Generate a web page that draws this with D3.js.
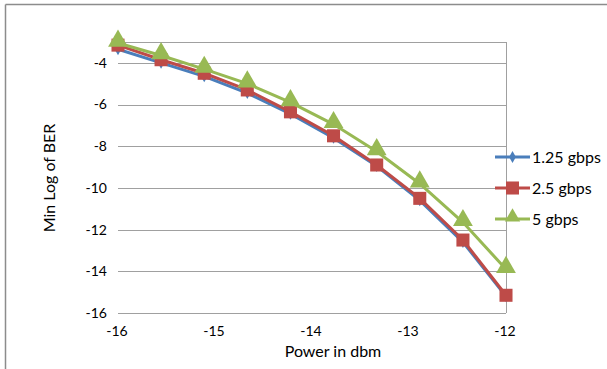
<!DOCTYPE html>
<html>
<head>
<meta charset="utf-8">
<script src="https://cdn.jsdelivr.net/npm/d3@7"></script>
<style>
  body { margin: 0; background: #fff; }
  text { font-family: Lato, "Open Sans", sans-serif; fill: #000; }
</style>
</head>
<body>
<svg width="607" height="369"></svg>
<script>
var power = [-16, -15.556, -15.111, -14.667, -14.222, -13.778, -13.333, -12.889, -12.444, -12]
var ber125 = [-3.35, -4.0, -4.65, -5.45, -6.45, -7.6, -8.95, -10.6, -12.6, -15.2]
var ber25 = [-3.15, -3.85, -4.5, -5.3, -6.35, -7.5, -8.9, -10.5, -12.5, -15.15]
var ber5 = [-3.05, -3.65, -4.3, -5.0, -5.9, -6.95, -8.25, -9.8, -11.65, -13.9]
var xTicks = [-16, -15, -14, -13, -12]
var yTicks = [-4, -6, -8, -10, -12, -14, -16]
var seriesNames = ["1.25 gbps", "2.5 gbps", "5 gbps"]
var seriesColors = ["#4a7ebb", "#be4b48", "#98b954"]
var seriesData = [ber125, ber25, ber5]

var svg = d3.select('svg')

// outer chart frame (top and left edges visible)
svg.append('line').attr('x1', 5.5).attr('x2', 607).attr('y1', 4.5).attr('y2', 4.5)
  .attr('stroke', '#8c8c8c').attr('stroke-width', 1.5)
svg.append('line').attr('x1', 5.5).attr('x2', 5.5).attr('y1', 4.5).attr('y2', 369)
  .attr('stroke', '#8c8c8c').attr('stroke-width', 1.5)

var x = d3.scaleLinear().domain([-16, -12]).range([118, 506])
var y = d3.scaleLinear().domain([-16, -3]).range([313, 42])

// gridlines
svg.append('g').selectAll('line')
  .data(yTicks.concat([-3]))
  .enter().append('line')
    .attr('x1', x(-16)).attr('x2', x(-12))
    .attr('y1', d => Math.round(y(d)) + 0.5).attr('y2', d => Math.round(y(d)) + 0.5)
    .attr('stroke', '#a0a0a0').attr('stroke-width', 1)
svg.append('line')
  .attr('x1', Math.round(x(-12)) + 0.5).attr('x2', Math.round(x(-12)) + 0.5)
  .attr('y1', y(-3)).attr('y2', y(-16))
  .attr('stroke', '#a0a0a0').attr('stroke-width', 1)

// tick labels
svg.append('g').selectAll('text')
  .data(yTicks)
  .enter().append('text')
    .attr('x', 107).attr('y', d => y(d))
    .attr('dy', '0.35em')
    .attr('text-anchor', 'end')
    .style('font-size', '14px')
    .text(d => String(d))
svg.append('g').selectAll('text')
  .data(xTicks)
  .enter().append('text')
    .attr('x', d => x(d) - 1).attr('y', 331)
    .attr('dy', '0.35em')
    .attr('text-anchor', 'middle')
    .style('font-size', '14px')
    .text(d => String(d))

// axis titles
svg.append('text')
  .attr('transform', 'translate(49,178) rotate(-90)')
  .attr('text-anchor', 'middle')
  .attr('dy', '0.35em')
  .style('font-size', '16px')
  .text('Min Log of BER')
svg.append('text')
  .attr('x', 333).attr('y', 351)
  .attr('text-anchor', 'middle')
  .attr('dy', '0.35em')
  .style('font-size', '16px')
  .text('Power in dbm')

var line = d3.line().x(d => x(d[0])).y(d => y(d[1]))

function marker(sel, i, size) {
  var sym = [d3.symbolDiamond, d3.symbolSquare, d3.symbolTriangle][i]
  var area = [40, 170, 170][i]
  sel.append('path')
    .attr('d', d3.symbol().type(sym).size(area * (size || 1)))
    .attr('fill', seriesColors[i])
}

seriesData.forEach(function (vals, i) {
  var pts = power.map((p, k) => [p, vals[k]])
  var g = svg.append('g')
  g.append('path')
    .datum(pts)
    .attr('d', line)
    .attr('fill', 'none')
    .attr('stroke', seriesColors[i])
    .attr('stroke-width', 3)
  g.selectAll('g')
    .data(pts)
    .enter().append('g')
      .attr('transform', d => 'translate(' + x(d[0]) + ',' + (y(d[1]) + (i == 2 ? -2 : 0)) + ')')
      .each(function () { marker(d3.select(this), i) })
})

// legend
var legend = svg.append('g')
seriesNames.forEach(function (name, i) {
  var ly = 157 + i * 31
  legend.append('line')
    .attr('x1', 495).attr('x2', 530).attr('y1', ly).attr('y2', ly)
    .attr('stroke', seriesColors[i]).attr('stroke-width', 3)
  var m = legend.append('g').attr('transform', 'translate(512.5,' + (ly + (i == 2 ? -2 : 0)) + ')')
  marker(m, i, i == 2 ? 0.6 : 1)
  legend.append('text')
    .attr('x', 532).attr('y', ly)
    .attr('dy', '0.35em')
    .style('font-size', '16px')
    .text(name)
})
</script>
</body>
</html>
